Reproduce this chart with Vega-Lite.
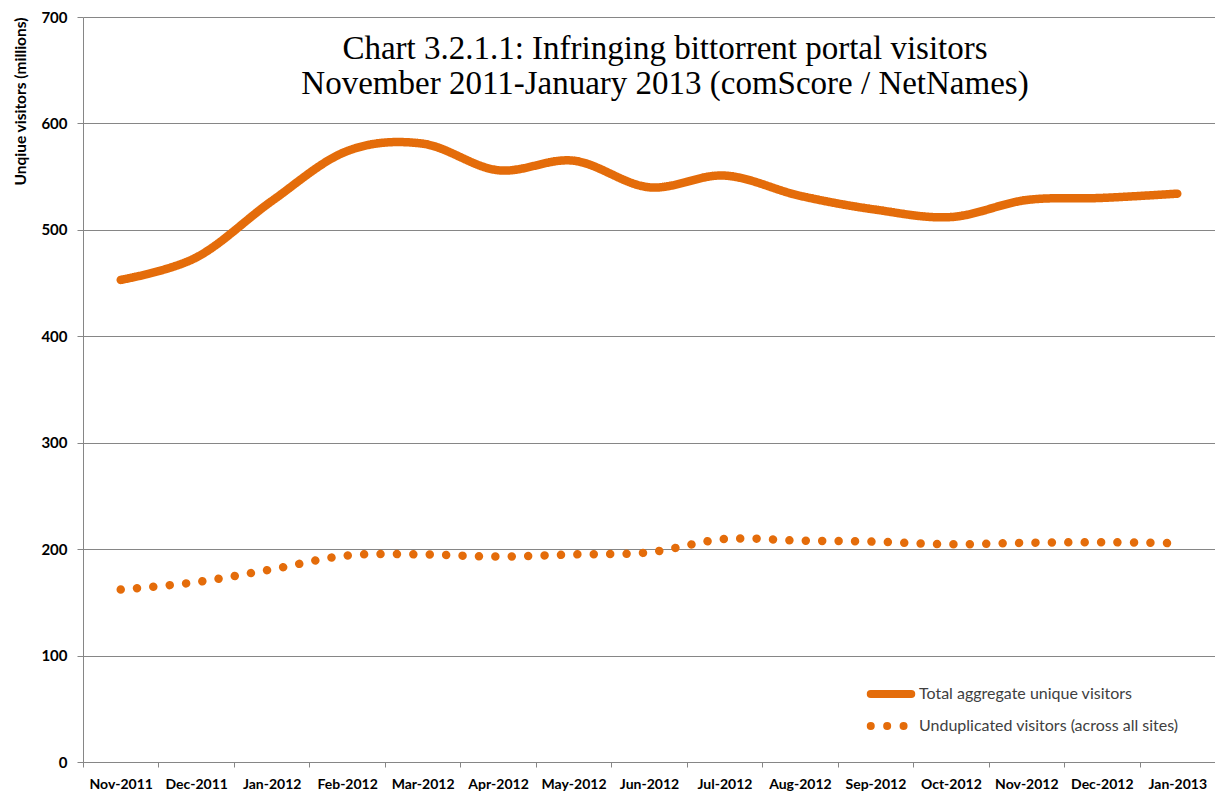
{
  "$schema": "https://vega.github.io/schema/vega-lite/v6.json",
  "width": 1132,
  "height": 745,
  "autosize": {"type": "none"},
  "padding": {"left": 83, "top": 17, "right": 0, "bottom": 35},
  "background": "white",
  "config": {"view": {"stroke": null}},
  "title": {
    "text": ["Chart 3.2.1.1: Infringing bittorrent portal visitors", "November 2011-January 2013 (comScore / NetNames)"],
    "font": "Liberation Serif",
    "fontSize": 33,
    "fontWeight": "normal",
    "color": "#000000",
    "anchor": "middle",
    "baseline": "top",
    "offset": -91,
    "dx": 16,
    "lineHeight": 35
  },
  "data": {
    "values": [
      {"month": "Nov-2011", "series": "Total aggregate unique visitors", "visitors": 453},
      {"month": "Dec-2011", "series": "Total aggregate unique visitors", "visitors": 474},
      {"month": "Jan-2012", "series": "Total aggregate unique visitors", "visitors": 527},
      {"month": "Feb-2012", "series": "Total aggregate unique visitors", "visitors": 574},
      {"month": "Mar-2012", "series": "Total aggregate unique visitors", "visitors": 581},
      {"month": "Apr-2012", "series": "Total aggregate unique visitors", "visitors": 556},
      {"month": "May-2012", "series": "Total aggregate unique visitors", "visitors": 565},
      {"month": "Jun-2012", "series": "Total aggregate unique visitors", "visitors": 540},
      {"month": "Jul-2012", "series": "Total aggregate unique visitors", "visitors": 551},
      {"month": "Aug-2012", "series": "Total aggregate unique visitors", "visitors": 532},
      {"month": "Sep-2012", "series": "Total aggregate unique visitors", "visitors": 519},
      {"month": "Oct-2012", "series": "Total aggregate unique visitors", "visitors": 512},
      {"month": "Nov-2012", "series": "Total aggregate unique visitors", "visitors": 528},
      {"month": "Dec-2012", "series": "Total aggregate unique visitors", "visitors": 530},
      {"month": "Jan-2013", "series": "Total aggregate unique visitors", "visitors": 534},
      {"month": "Nov-2011", "series": "Unduplicated visitors (across all sites)", "visitors": 162},
      {"month": "Dec-2011", "series": "Unduplicated visitors (across all sites)", "visitors": 169},
      {"month": "Jan-2012", "series": "Unduplicated visitors (across all sites)", "visitors": 181},
      {"month": "Feb-2012", "series": "Unduplicated visitors (across all sites)", "visitors": 194},
      {"month": "Mar-2012", "series": "Unduplicated visitors (across all sites)", "visitors": 195},
      {"month": "Apr-2012", "series": "Unduplicated visitors (across all sites)", "visitors": 193},
      {"month": "May-2012", "series": "Unduplicated visitors (across all sites)", "visitors": 195},
      {"month": "Jun-2012", "series": "Unduplicated visitors (across all sites)", "visitors": 197},
      {"month": "Jul-2012", "series": "Unduplicated visitors (across all sites)", "visitors": 209.5},
      {"month": "Aug-2012", "series": "Unduplicated visitors (across all sites)", "visitors": 208},
      {"month": "Sep-2012", "series": "Unduplicated visitors (across all sites)", "visitors": 207},
      {"month": "Oct-2012", "series": "Unduplicated visitors (across all sites)", "visitors": 204.5},
      {"month": "Nov-2012", "series": "Unduplicated visitors (across all sites)", "visitors": 206},
      {"month": "Dec-2012", "series": "Unduplicated visitors (across all sites)", "visitors": 206.5},
      {"month": "Jan-2013", "series": "Unduplicated visitors (across all sites)", "visitors": 205.5}
    ]
  },
  "mark": {"type": "line", "interpolate": "cardinal", "strokeCap": "round", "strokeWidth": 8.5, "color": "#E46C0A"},
  "encoding": {
    "x": {
      "field": "month",
      "type": "ordinal",
      "sort": null,
      "bandPosition": 0.5,
      "scale": {"type": "band", "paddingInner": 0, "paddingOuter": 0},
      "axis": {
        "title": null,
        "labelAngle": 0,
        "tickBand": "extent",
        "grid": false,
        "domainColor": "#868686",
        "tickColor": "#868686",
        "tickSize": 5,
        "labelFont": "Lato",
        "labelFontWeight": "bold",
        "labelFontSize": 14,
        "labelColor": "#000000",
        "labelPadding": 10
      }
    },
    "y": {
      "field": "visitors",
      "type": "quantitative",
      "scale": {"domain": [0, 700]},
      "axis": {
        "title": "Unqiue visitors (millions)",
        "values": [0, 100, 200, 300, 400, 500, 600, 700],
        "grid": true,
        "gridColor": "#868686",
        "domainColor": "#868686",
        "tickColor": "#868686",
        "tickSize": 6,
        "labelPadding": 10,
        "labelFont": "Lato",
        "labelFontWeight": "bold",
        "labelFontSize": 15,
        "labelColor": "#000000",
        "titleFont": "Lato",
        "titleFontWeight": "bold",
        "titleFontSize": 15.5,
        "titleColor": "#000000",
        "titleAnchor": "end",
        "titlePadding": 12
      }
    },
    "strokeDash": {
      "field": "series",
      "type": "nominal",
      "scale": {
        "domain": ["Total aggregate unique visitors", "Unduplicated visitors (across all sites)"],
        "range": [[1, 0], [0.01, 16.4]]
      },
      "legend": {
        "title": null,
        "orient": "none",
        "legendX": 795,
        "legendY": 664,
        "symbolType": "M-2.25,0H2.25",
        "symbolSize": 324,
        "symbolStrokeWidth": 8,
        "symbolStrokeColor": "#E46C0A",
        "symbolFillColor": "transparent",
        "labelFont": "Lato",
        "labelFontSize": 16,
        "labelColor": "#404040",
        "labelOffset": 15,
        "labelLimit": 0,
        "rowPadding": 0,
        "encode": {"symbols": {"update": {"strokeCap": {"value": "round"}}}}
      }
    }
  }
}
